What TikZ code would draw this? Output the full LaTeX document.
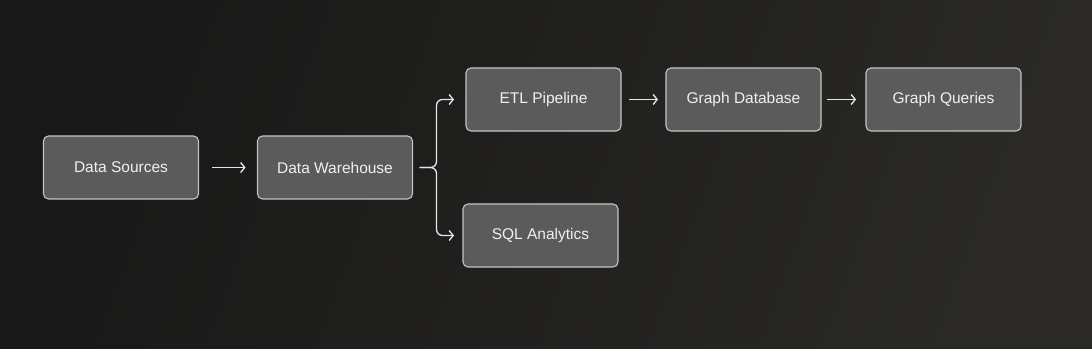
\documentclass[tikz,border=0pt]{standalone}
\usepackage{fontspec}
\setmainfont{Liberation Sans}
\usepackage{tikz}
\usetikzlibrary{positioning, arrows.meta}

\definecolor{bgleft}{HTML}{181818}
\definecolor{bgright}{HTML}{2A2925}
\definecolor{boxfill}{HTML}{5B5B5B}
\definecolor{boxline}{HTML}{C4C4C4}
\definecolor{linecol}{HTML}{E6E6E6}

\begin{document}
\begin{tikzpicture}[
  x=1pt, y=1pt,
  font=\fontsize{15.5}{18}\selectfont,
  box/.style={
    rectangle, rounded corners=5pt,
    minimum width=155pt, minimum height=63pt,
    draw=boxline, fill=boxfill, line width=1.1pt,
    text=white!94!black, inner sep=0pt, outer sep=0pt
  },
  arr/.style={-{Straight Barb[length=4pt, width=10pt]}, draw=linecol, line width=1.3pt},
  fork/.style={arr, rounded corners=6pt}
]

\shade[left color=bgleft, right color=bgright, shading angle=70]
  (0,0) rectangle (1092,348);
\useasboundingbox (0,0) rectangle (1092,348);

\node[box] (src) at (121,180.5) {Data Sources};
\node[box, right=59pt of src] (dw) {Data Warehouse};
\node[box, right=53.5pt of dw, yshift=68pt] (etl) {ETL Pipeline};
\node[box, right=45pt of etl] (gdb) {Graph Database};
\node[box, right=45pt of gdb] (gq) {Graph Queries};
\node[box, right=50.5pt of dw, yshift=-68pt] (sql) {SQL Analytics};

\coordinate (split) at ([xshift=24pt]dw.east);

\draw[arr, shorten <=13pt, shorten >=12pt] (src.east) -- (dw.west);
\draw[fork] ([xshift=7pt]dw.east) -- (split) |- ([xshift=-12pt]etl.west);
\draw[fork] ([xshift=7pt]dw.east) -- (split) |- ([xshift=-9pt]sql.west);
\draw[arr, shorten <=8pt, shorten >=8pt] (etl.east) -- (gdb.west);
\draw[arr, shorten <=6pt, shorten >=10pt] (gdb.east) -- (gq.west);

\end{tikzpicture}
\end{document}
